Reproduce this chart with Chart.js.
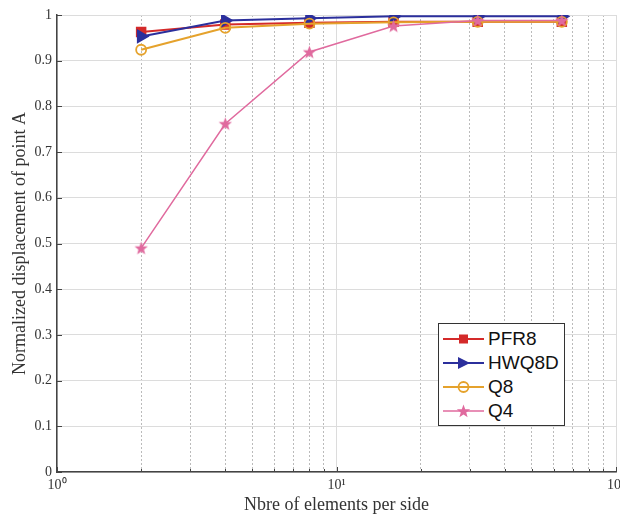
<!DOCTYPE html>
<html>
<head>
<meta charset="utf-8">
<script src="https://cdn.jsdelivr.net/npm/chart.js@4.4.0/dist/chart.umd.min.js"></script>
<style>
  html, body { margin: 0; padding: 0; background: #fff; }
  #wrap { position: relative; width: 620px; height: 518px; overflow: hidden; }
  #chart { position: absolute; left: 0; top: 0; }
  #legend {
    position: absolute; left: 438px; top: 323px; width: 125px;
    border: 1px solid #333; background: #fff; padding: 3px 0 2px 0;
    font-family: "Liberation Sans", Arial, sans-serif; font-size: 19px; color: #111;
  }
  .row { height: 24px; display: flex; align-items: center; }
  .row svg { flex: none; margin-left: 4px; }
  .row span { margin-left: 4px; line-height: 24px; }
</style>
</head>
<body>
<div id="wrap">
  <canvas id="chart" width="640" height="518"></canvas>
  <div id="legend"></div>
</div>
<script>
// data
const elements = [2, 4, 8, 16, 32, 64];
const pfr8 = [0.963, 0.979, 0.983, 0.985, 0.985, 0.985];
const hwq8d = [0.953, 0.988, 0.993, 0.997, 0.997, 0.997];
const q8 = [0.924, 0.972, 0.981, 0.984, 0.985, 0.985];
const q4 = [0.490, 0.762, 0.919, 0.976, 0.988, 0.988];

const seriesNames = ["PFR8", "HWQ8D", "Q8", "Q4"];
const seriesColors = ["#d42a2a", "#2b2f9c", "#e5a22c", "#e06a9e"];

const xTicks = [1, 2, 3, 4, 5, 6, 7, 8, 9, 10, 20, 30, 40, 50, 60, 70, 80, 90, 100];
const xMajor = [1, 10, 100];
const xLabels = { 1: "10\u2070", 10: "10\u00b9", 100: "10\u00b2" };

const serif = "'Liberation Serif', 'Times New Roman', serif";

// star outline points
function starPoints(cx, cy, ro, ri) {
  const pts = [];
  for (let i = 0; i < 10; i++) {
    const r = i % 2 === 0 ? ro : ri;
    const a = -Math.PI / 2 + i * Math.PI / 5;
    pts.push([cx + r * Math.cos(a), cy + r * Math.sin(a)]);
  }
  return pts;
}

function makeStar(color) {
  const c = document.createElement("canvas");
  c.width = 15; c.height = 15;
  const g = c.getContext("2d");
  g.fillStyle = color;
  g.beginPath();
  starPoints(7.5, 8, 7, 2.9).forEach((p, i) => i ? g.lineTo(p[0], p[1]) : g.moveTo(p[0], p[1]));
  g.closePath();
  g.fill();
  return c;
}

function toXY(ys) {
  return elements.map((x, i) => ({ x: x, y: ys[i] }));
}

// small ticks pointing into the plot, like matlab
const inwardTicks = {
  id: "inwardTicks",
  beforeDatasetsDraw(chart) {
    const { ctx, chartArea, scales } = chart;
    ctx.save();
    ctx.strokeStyle = "#444";
    ctx.lineWidth = 1;
    ctx.beginPath();
    scales.y.ticks.forEach((t) => {
      const py = Math.round(scales.y.getPixelForValue(t.value)) + 0.5;
      ctx.moveTo(chartArea.left, py);
      ctx.lineTo(chartArea.left + 5, py);
    });
    scales.x.ticks.forEach((t) => {
      const px = Math.round(scales.x.getPixelForValue(t.value)) + 0.5;
      const len = xMajor.includes(t.value) ? 5 : 3;
      ctx.moveTo(px, chartArea.bottom);
      ctx.lineTo(px, chartArea.bottom - len);
    });
    ctx.stroke();
    ctx.restore();
  }
};

const ctx = document.getElementById("chart").getContext("2d");
new Chart(ctx, {
  type: "line",
  data: {
    datasets: [
      {
        label: seriesNames[0], data: toXY(pfr8),
        borderColor: seriesColors[0], backgroundColor: seriesColors[0],
        borderWidth: 2, pointStyle: "rect", pointRadius: 6, order: 4
      },
      {
        label: seriesNames[1], data: toXY(hwq8d),
        borderColor: seriesColors[1], backgroundColor: seriesColors[1],
        borderWidth: 2, pointStyle: "triangle", pointRotation: 90, pointRadius: 6.5, order: 3
      },
      {
        label: seriesNames[2], data: toXY(q8),
        borderColor: seriesColors[2], backgroundColor: "rgba(255,255,255,0)",
        borderWidth: 2, pointStyle: "circle", pointRadius: 5, pointBorderWidth: 1.8, order: 2
      },
      {
        label: seriesNames[3], data: toXY(q4),
        borderColor: seriesColors[3], backgroundColor: seriesColors[3],
        borderWidth: 1.5, pointStyle: makeStar(seriesColors[3]), order: 1
      }
    ]
  },
  options: {
    responsive: false,
    animation: false,
    devicePixelRatio: 1,
    layout: { padding: { left: 0, top: 15, right: 24, bottom: 0 } },
    plugins: {
      legend: { display: false },
      tooltip: { enabled: false }
    },
    scales: {
      x: {
        type: "logarithmic",
        min: 1,
        max: 100,
        afterBuildTicks: (s) => {
          s.ticks = xTicks.map((v) => ({ value: v, major: xMajor.includes(v) }));
        },
        afterFit: (s) => { s.height = 46; },
        ticks: {
          autoSkip: false,
          maxRotation: 0,
          padding: 5,
          color: "#333",
          font: { family: serif, size: 14 },
          callback: (v) => xLabels[v] || ""
        },
        grid: {
          drawTicks: false,
          lineWidth: 1,
          color: (c) => (c.tick && xMajor.includes(c.tick.value)) ? "#dcdcdc" : "#bbbbbb"
        },
        border: {
          color: "#444",
          width: 1.5,
          dash: (c) => (c.tick && !xMajor.includes(c.tick.value)) ? [2, 2] : []
        },
        title: {
          display: true,
          text: "Nbre of elements per side",
          color: "#333",
          font: { family: serif, size: 18 },
          padding: { top: 0, bottom: 2 }
        }
      },
      y: {
        type: "linear",
        min: 0,
        max: 1,
        afterFit: (s) => { s.width = 57; },
        ticks: {
          stepSize: 0.1,
          padding: 5,
          color: "#333",
          font: { family: serif, size: 14 },
          callback: (v) => String(Number(v.toFixed(1)))
        },
        grid: { drawTicks: false, color: "#dcdcdc", lineWidth: 1 },
        border: { color: "#444", width: 1.5 },
        title: {
          display: true,
          text: "Normalized displacement of point A",
          color: "#333",
          font: { family: serif, size: 18 },
          padding: { top: 9, bottom: 0 }
        }
      }
    }
  },
  plugins: [inwardTicks]
});

// legend drawn as html, sitting inside the plot
const svgNS = "http://www.w3.org/2000/svg";
function markerSvg(i) {
  const col = seriesColors[i];
  let m = "";
  if (i === 0) m = `<rect x="16" y="7.5" width="9" height="9" fill="${col}"/>`;
  if (i === 1) m = `<polygon points="15,6 27,12 15,18" fill="${col}"/>`;
  if (i === 2) m = `<circle cx="20.5" cy="12" r="5" fill="none" stroke="${col}" stroke-width="1.8"/>`;
  if (i === 3) m = `<polygon points="${starPoints(20.5, 12.5, 7, 2.9).map((p) => p.join(",")).join(" ")}" fill="${col}"/>`;
  const w = i === 3 ? 1.5 : 2;
  return `<svg xmlns="${svgNS}" width="41" height="24"><line x1="0" y1="12" x2="41" y2="12" stroke="${col}" stroke-width="${w}"/>${m}</svg>`;
}
const legend = document.getElementById("legend");
seriesNames.forEach((name, i) => {
  const row = document.createElement("div");
  row.className = "row";
  row.innerHTML = markerSvg(i) + `<span>${name}</span>`;
  legend.appendChild(row);
});
</script>
</body>
</html>
